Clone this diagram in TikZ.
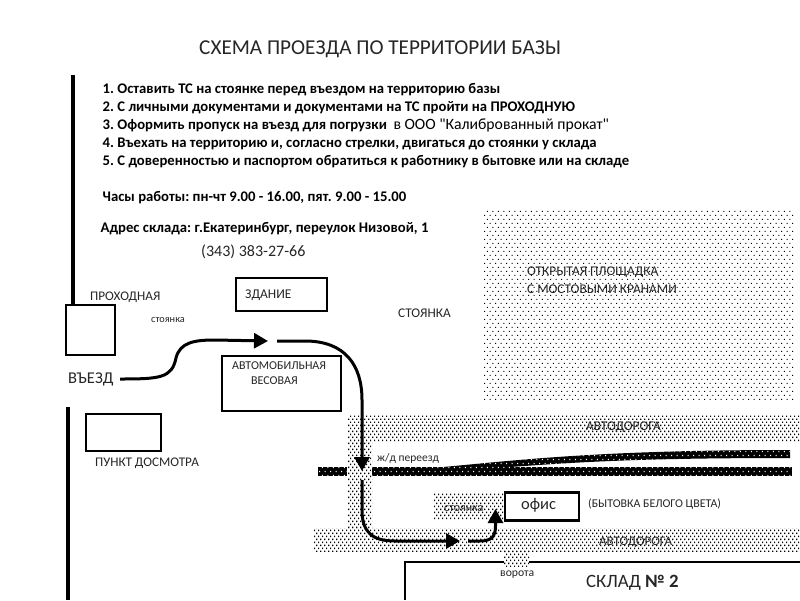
\documentclass[tikz,border=0pt]{standalone}
\usepackage{fontspec}
\setmainfont{Carlito}
\newfontfamily\plainq{Carlito}
\usetikzlibrary{patterns,arrows.meta}
\pgfdeclarepatternformonly{sparsedots}{\pgfqpoint{-1pt}{-1pt}}{\pgfqpoint{5pt}{7pt}}{\pgfqpoint{5.5pt}{8pt}}{%
  \pgfpathrectangle{\pgfqpoint{0pt}{0pt}}{\pgfqpoint{1.2pt}{1.2pt}}%
  \pgfpathrectangle{\pgfqpoint{2.75pt}{4pt}}{\pgfqpoint{1.2pt}{1.2pt}}%
  \pgfusepath{fill}}
\pgfdeclarepatternformonly{densedots}{\pgfqpoint{-1pt}{-1pt}}{\pgfqpoint{3pt}{5pt}}{\pgfqpoint{4pt}{6pt}}{%
  \pgfpathrectangle{\pgfqpoint{0pt}{0pt}}{\pgfqpoint{1.4pt}{1.4pt}}%
  \pgfpathrectangle{\pgfqpoint{2pt}{3pt}}{\pgfqpoint{1.4pt}{1.4pt}}%
  \pgfusepath{fill}}
\tikzset{
  txt/.style={anchor=west,inner sep=0pt,text=black!85,font=\fontsize{#1}{#1}\selectfont},
  txt/.default=12,
  btxt/.style={anchor=west,inner sep=0pt,text=black,font=\fontsize{14.7}{14.7}\selectfont\bfseries},
  area/.style={pattern=densedots,pattern color=black},
  openarea/.style={pattern=sparsedots,pattern color=black},
  boxn/.style={draw=black,line width=2pt,fill=white,inner sep=0pt,outer sep=0pt,anchor=north west},
  wall/.style={line width=4pt,draw=black},
  route/.style={line width=3pt,draw=black},
  routetip/.style={route,-{Triangle[length=14pt,width=15pt]}},
}
\begin{document}
\frenchspacing
\begin{tikzpicture}[x=1pt,y=-1pt]
\useasboundingbox (0,0) rectangle (800,600);
\fill[white] (0,0) rectangle (800,600);
% dotted areas
\path[openarea] (484,210) rectangle (794,401);
\path[area] (347,414) rectangle (800,441);
\path[area] (347,441) rectangle (372,528);
\path[area] (314,528) rectangle (800,551);
\path[area] (434,493) rectangle (503,519);
\path[area] (504,551) rectangle (529,566);
% railway
\fill[black] (318,467) rectangle (347,476);
\fill[black] (372,467) rectangle (792,476);
\fill[black] (443,467) .. controls (520,460) and (600,450) .. (790,450) -- (790,458)
  .. controls (640,458) and (580,462) .. (510,467) -- cycle;
\path[pattern=sparsedots,pattern color=white] (318,467) rectangle (347,476);
\path[pattern=sparsedots,pattern color=white] (372,467) rectangle (792,476);
\path[pattern=sparsedots,pattern color=white] (443,467) .. controls (520,460) and (600,450) .. (790,450) -- (790,458)
  .. controls (640,458) and (580,462) .. (510,467) -- cycle;
% walls
\coordinate (w1a) at (73,75); \coordinate (w1b) at (73,305);
\coordinate (w2a) at (68,407); \coordinate (w2b) at (68,600);
\draw[wall] (w1a) -- (w1b);
\draw[wall,line width=3.5pt] (w2a) -- (w2b);
% boxes
\node[boxn,minimum width=49pt,minimum height=50pt] (kpp) at (65.5,305) {};
\node[boxn,minimum width=91pt,minimum height=33pt] (bld) at (235.5,277.5) {};
\node[boxn,minimum width=119pt,minimum height=55pt] (ves) at (221.5,355.5) {};
\node[boxn,minimum width=75pt,minimum height=37pt] (chk) at (85.5,413.5) {};
\node[boxn,line width=2.2pt,minimum width=74pt,minimum height=28pt] (ofc) at (505,492.5) {};
% warehouse
\coordinate (s1) at (503.5,562); \coordinate (s2) at (405,562); \coordinate (s3) at (405,600);
\coordinate (s4) at (529,562); \coordinate (s5) at (800,562);
\draw[line width=2.5pt] (s3) -- (s2) -- (s1);
\draw[line width=2.5pt] (s4) -- (s5);
% routes
\coordinate (r1) at (120,379); \coordinate (r1t) at (268,341);
\coordinate (r2) at (277,341); \coordinate (r2t) at (362,471);
\coordinate (r3) at (362,480); \coordinate (r3t) at (460,541);
\coordinate (r4) at (468,541); \coordinate (r4t) at (495.5,509);
\draw[routetip] (r1) .. controls (160,379) and (172,378) .. (176,358)
  .. controls (180,342) and (195,340) .. (215,340) -- (r1t);
\draw[routetip] (r2) -- (305,341) .. controls (345,341) and (362,365) .. (362,400) -- (r2t);
\draw[routetip] (r3) -- (362,510) .. controls (362,532) and (372,541) .. (395,541) -- (r3t);
\draw[routetip] (r4) -- (480,541) .. controls (492,541) and (495.5,536) .. (495.5,526) -- (r4t);
% text
\node[txt=21.2] (title) at (199,49) {СХЕМА ПРОЕЗДА ПО ТЕРРИТОРИИ БАЗЫ};
\node[btxt] (l1) at (102.5,89.5) {1. Оставить ТС на стоянке перед въездом на территорию базы};
\node[btxt] (l2) at (102.5,107.5) {2. С личными документами и документами на ТС пройти на ПРОХОДНУЮ};
\node[btxt] (l3) at (102.5,125.5) {3. Оформить пропуск на въезд для погрузки\ \ {\mdseries\fontsize{15.7}{15.7}\selectfont в ООО {\plainq"}Калиброванный прокат{\plainq"}}};
\node[btxt] (l4) at (102.5,143.5) {4. Въехать на территорию и, согласно стрелки, двигаться до стоянки у склада};
\node[btxt] (l5) at (102.5,161.5) {5. С доверенностью и паспортом обратиться к работнику в бытовке или на складе};
\node[btxt] (hrs) at (102.5,197.5) {Часы работы: пн-чт 9.00 - 16.00, пят. 9.00 - 15.00};
\node[btxt] (adr) at (100.5,229) {Адрес склада: г.Екатеринбург, переулок Низовой, 1};
\node[txt=16] (tel) at (201,252) {(343) 383-27-66};
\node[txt=13.2] (t1) at (90,297) {ПРОХОДНАЯ};
\node[txt=10.3] (t2) at (151,320) {стоянка};
\node[txt=13.4] (t3) at (245,295) {ЗДАНИЕ};
\node[txt=13.3] (t4) at (398,313) {СТОЯНКА};
\node[txt=12] (t5) at (232,366) {АВТОМОБИЛЬНАЯ};
\node[txt=12] (t6) at (251,381) {ВЕСОВАЯ};
\node[txt=16.5] (t7) at (68,379) {ВЪЕЗД};
\node[txt=13.2] (t8) at (95,463) {ПУНКТ ДОСМОТРА};
\node[txt=13.3] (t9) at (527,272) {ОТКРЫТАЯ ПЛОЩАДКА};
\node[txt=13.3] (t10) at (527,289) {С МОСТОВЫМИ КРАНАМИ};
\node[txt=13.3] (t11) at (586,427) {АВТОДОРОГА};
\node[txt=11.5] (t12) at (377,458.5) {ж/д переезд};
\node[txt=12] (t13) at (444,509) {стоянка};
\node[txt=16.5] (t14) at (521,505.5) {офис};
\node[txt=11.9] (t15) at (588,504) {(БЫТОВКА БЕЛОГО ЦВЕТА)};
\node[txt=13] (t16) at (599,542) {АВТОДОРОГА};
\node[txt=11.7] (t17) at (500,574.5) {ворота};
\node[txt=18.8] (t18) at (586,582.5) {СКЛАД {\bfseries № 2}};
\end{tikzpicture}
\end{document}
